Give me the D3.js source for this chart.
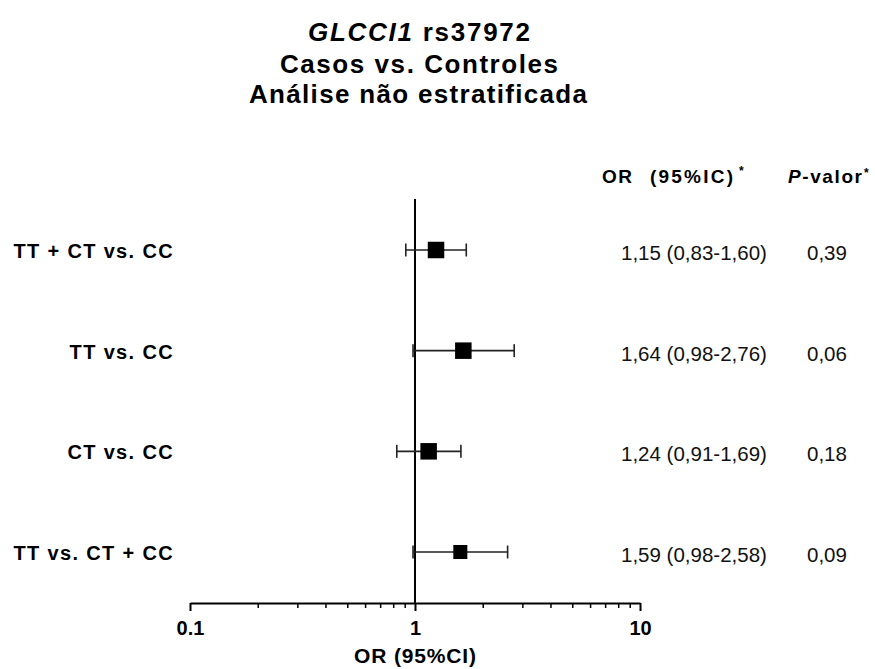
<!DOCTYPE html>
<html>
<head>
<meta charset="utf-8">
<script src="https://cdn.jsdelivr.net/npm/d3@7"></script>
<style>
  body { margin: 0; background: #fff; }
  svg { display: block; font-family: Arial, "Liberation Sans", Helvetica, sans-serif; }
  .bold { font-weight: bold; }
</style>
</head>
<body>
<svg id="chart" width="875" height="669" viewBox="0 0 875 669"></svg>
<script>
// rows of the forest plot, top to bottom
const comparisons = ["TT + CT vs. CC", "TT vs. CC", "CT vs. CC", "TT vs. CT + CC"];
// where the markers sit in the picture (rows 1 and 3 are drawn swapped vs. the printed text)
const orPlotted = [1.24, 1.64, 1.15, 1.59];
const ciLow = [0.91, 0.98, 0.83, 0.98];
const ciHigh = [1.69, 2.76, 1.60, 2.58];
const weights = [1, 1, 1, 0.85];
// printed columns
const orLabels = ["1,15 (0,83-1,60)", "1,64 (0,98-2,76)", "1,24 (0,91-1,69)", "1,59 (0,98-2,58)"];
const pLabels = ["0,39", "0,06", "0,18", "0,09"];
const majorTicks = [0.1, 1, 10];
const tickLabels = ["0.1", "1", "10"];

const svg = d3.select("#chart");

const x = d3.scaleLog().domain([0.1, 10]).range([190, 640]);
const y = d3.scalePoint().domain(comparisons).range([250, 552]);
const axisY = 603;

const rows = comparisons.map((c, i) => ({
    name: c, or: orPlotted[i], lo: ciLow[i], hi: ciHigh[i], w: weights[i],
    orText: orLabels[i], pText: pLabels[i]
}));

// title
const title = svg.append("g").attr("class", "bold").attr("text-anchor", "middle").attr("font-size", 26);
const t1 = title.append("text").attr("x", 419).attr("y", 41)
    .attr("textLength", 222).attr("lengthAdjust", "spacing");
t1.append("tspan").attr("font-style", "italic").text("GLCCI1");
t1.append("tspan").text(" rs37972");
title.append("text").attr("x", 419).attr("y", 73)
    .attr("textLength", 278).attr("lengthAdjust", "spacing").text("Casos vs. Controles");
title.append("text").attr("x", 418).attr("y", 103)
    .attr("textLength", 338).attr("lengthAdjust", "spacing").text("Análise não estratificada");

// column headers
const head = svg.append("g").attr("class", "bold").attr("font-size", 19);
head.append("text").attr("x", 602).attr("y", 183).attr("textLength", 30)
    .attr("lengthAdjust", "spacing").text("OR");
head.append("text").attr("x", 650).attr("y", 183).attr("textLength", 83)
    .attr("lengthAdjust", "spacing").text("(95%IC)");
head.append("text").attr("x", 739).attr("y", 175).attr("font-size", 12).text("*");
const pv = head.append("text").attr("x", 788).attr("y", 183).attr("textLength", 74)
    .attr("lengthAdjust", "spacing");
pv.append("tspan").attr("font-style", "italic").text("P");
pv.append("tspan").text("-valor");
head.append("text").attr("x", 864).attr("y", 177).attr("font-size", 12).text("*");

// line of no effect
svg.append("line")
    .attr("x1", x(1)).attr("x2", x(1))
    .attr("y1", 199).attr("y2", axisY)
    .attr("stroke", "#000").attr("stroke-width", 2);

// x axis, major and minor ticks
const minorTicks = [];
[0.1, 1].forEach(d => { for (let k = 2; k <= 9; k++) minorTicks.push(d * k); });

const axisG = svg.append("g").attr("transform", `translate(0,${axisY})`);
axisG.append("g")
    .call(d3.axisBottom(x).tickValues(minorTicks).tickSize(5).tickSizeOuter(0).tickFormat(""))
    .call(g => g.select(".domain").remove())
    .call(g => g.selectAll("line").attr("stroke", "#000").attr("stroke-width", 1.5));
axisG.append("g")
    .call(d3.axisBottom(x).tickValues(majorTicks).tickSize(8).tickSizeOuter(0)
        .tickFormat((d, i) => tickLabels[i]))
    .call(g => g.select(".domain").attr("stroke", "#000").attr("stroke-width", 2))
    .call(g => g.selectAll("line").attr("stroke", "#000").attr("stroke-width", 2))
    .call(g => g.selectAll("text")
        .attr("y", 32).attr("dy", null)
        .attr("fill", "#000")
        .attr("font-size", 20).attr("font-weight", "bold")
        .attr("font-family", "Arial, 'Liberation Sans', Helvetica, sans-serif"));

svg.append("text").attr("class", "bold")
    .attr("x", x(1)).attr("y", 663)
    .attr("text-anchor", "middle").attr("font-size", 21)
    .attr("textLength", 122).attr("lengthAdjust", "spacing")
    .text("OR (95%CI)");

// row labels
svg.append("g").selectAll("text")
    .data(rows).join("text")
    .attr("class", "bold")
    .attr("x", 174).attr("y", d => y(d.name) + 8)
    .attr("text-anchor", "end").attr("font-size", 20)
    .attr("letter-spacing", 1.35)
    .text(d => d.name);

// error bars
const capH = 13;
const bars = svg.append("g").selectAll("g")
    .data(rows).join("g")
    .attr("stroke", "#222").attr("stroke-width", 1.6);
bars.append("line")
    .attr("x1", d => x(d.lo)).attr("x2", d => x(d.hi))
    .attr("y1", d => y(d.name)).attr("y2", d => y(d.name));
bars.append("line")
    .attr("x1", d => x(d.lo)).attr("x2", d => x(d.lo))
    .attr("y1", d => y(d.name) - capH / 2).attr("y2", d => y(d.name) + capH / 2);
bars.append("line")
    .attr("x1", d => x(d.hi)).attr("x2", d => x(d.hi))
    .attr("y1", d => y(d.name) - capH / 2).attr("y2", d => y(d.name) + capH / 2);

// point estimates
const sq = 16.5;
svg.append("g").selectAll("rect")
    .data(rows).join("rect")
    .attr("x", d => x(d.or) - sq * d.w / 2)
    .attr("y", d => y(d.name) - sq * d.w / 2)
    .attr("width", d => sq * d.w).attr("height", d => sq * d.w)
    .attr("fill", "#000");

// OR (CI) and p-value columns
svg.append("g").selectAll("text")
    .data(rows).join("text")
    .attr("x", 621).attr("y", d => y(d.name) + 10)
    .attr("font-size", 20.5).attr("fill", "#111")
    .text(d => d.orText);
svg.append("g").selectAll("text")
    .data(rows).join("text")
    .attr("x", 807).attr("y", d => y(d.name) + 10)
    .attr("font-size", 20.5).attr("fill", "#111")
    .text(d => d.pText);
</script>
</body>
</html>
